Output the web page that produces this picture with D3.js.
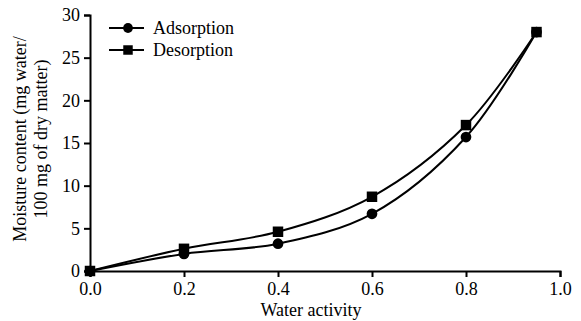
<!DOCTYPE html>
<html>
<head>
<meta charset="utf-8">
<script src="https://cdn.jsdelivr.net/npm/d3@7"></script>
<style>
  body { margin: 0; background: #fff; }
  svg text { font-family: "Liberation Serif", "Times New Roman", serif; fill: #000; }
</style>
</head>
<body>
<div id="chart"></div>
<script>
// water activity levels
const aw = [0, 0.2, 0.4, 0.6, 0.8, 0.95];
// moisture content, mg water / 100 mg dry matter
const adsorption = [0, 2.0, 3.2, 6.7, 15.7, 28.0];
const desorption = [0, 2.6, 4.6, 8.7, 17.1, 28.0];
const xTicks = [0, 0.2, 0.4, 0.6, 0.8, 1.0];
const yTicks = [0, 5, 10, 15, 20, 25, 30];

const W = 581, H = 321;
const margin = { top: 15, right: 21, bottom: 50, left: 90 };

const svg = d3.select("#chart").append("svg")
  .attr("width", W)
  .attr("height", H);

const x = d3.scaleLinear().domain([0, 1]).range([margin.left, W - margin.right]);
const y = d3.scaleLinear().domain([0, 30]).range([H - margin.bottom, margin.top]);

// axes
const xAxis = svg.append("g")
  .attr("transform", `translate(0,${y(0)})`)
  .call(d3.axisBottom(x).tickValues(xTicks).tickFormat(d3.format(".1f")).tickSizeOuter(0).tickSize(6).tickPadding(5));
const yAxis = svg.append("g")
  .attr("transform", `translate(${x(0)},0)`)
  .call(d3.axisLeft(y).tickValues(yTicks).tickSizeOuter(0).tickSize(6).tickPadding(4));

[xAxis, yAxis].forEach(a => {
  a.attr("font-family", null).attr("font-size", null);
  a.select(".domain").attr("stroke", "#000").attr("stroke-width", 2);
  a.selectAll(".tick line").attr("stroke", "#000").attr("stroke-width", 2);
  a.selectAll(".tick text").style("font-size", "18px");
});

// axis titles
svg.append("text")
  .attr("x", x(0.47))
  .attr("y", 316)
  .attr("text-anchor", "middle")
  .style("font-size", "18px")
  .text("Water activity");

const yt = svg.append("text")
  .attr("transform", `translate(26,${y(15) - 4}) rotate(-90)`)
  .attr("text-anchor", "middle")
  .style("font-size", "18px");
yt.append("tspan").attr("x", 0).attr("dy", 0).text("Moisture content (mg water/");
yt.append("tspan").attr("x", 0).attr("dy", 21).text("100 mg of dry matter)");

// series
const series = [
  { name: "Adsorption", values: adsorption, symbol: d3.symbolCircle },
  { name: "Desorption", values: desorption, symbol: d3.symbolSquare }
];

const line = d3.line()
  .x((d, i) => x(aw[i]))
  .y(d => y(d))
  .curve(d3.curveCatmullRom.alpha(0.5));

series.forEach(s => {
  svg.append("path")
    .attr("d", line(s.values))
    .attr("fill", "none")
    .attr("stroke", "#000")
    .attr("stroke-width", 2);

  svg.selectAll(null)
    .data(s.values)
    .enter()
    .append("path")
    .attr("transform", (d, i) => `translate(${x(aw[i])},${y(d)})`)
    .attr("d", d3.symbol().type(s.symbol).size(s.symbol === d3.symbolSquare ? 110 : 90))
    .attr("fill", "#000");
});

// legend
const legend = svg.append("g");
series.forEach((s, i) => {
  const ly = 28 + i * 22;
  legend.append("line")
    .attr("x1", 109).attr("x2", 144)
    .attr("y1", ly).attr("y2", ly)
    .attr("stroke", "#000").attr("stroke-width", 2);
  legend.append("path")
    .attr("transform", `translate(128,${ly})`)
    .attr("d", d3.symbol().type(s.symbol).size(s.symbol === d3.symbolSquare ? 90 : 75))
    .attr("fill", "#000");
  legend.append("text")
    .attr("x", 153)
    .attr("y", ly + 6)
    .style("font-size", "18px")
    .text(s.name);
});
</script>
</body>
</html>
